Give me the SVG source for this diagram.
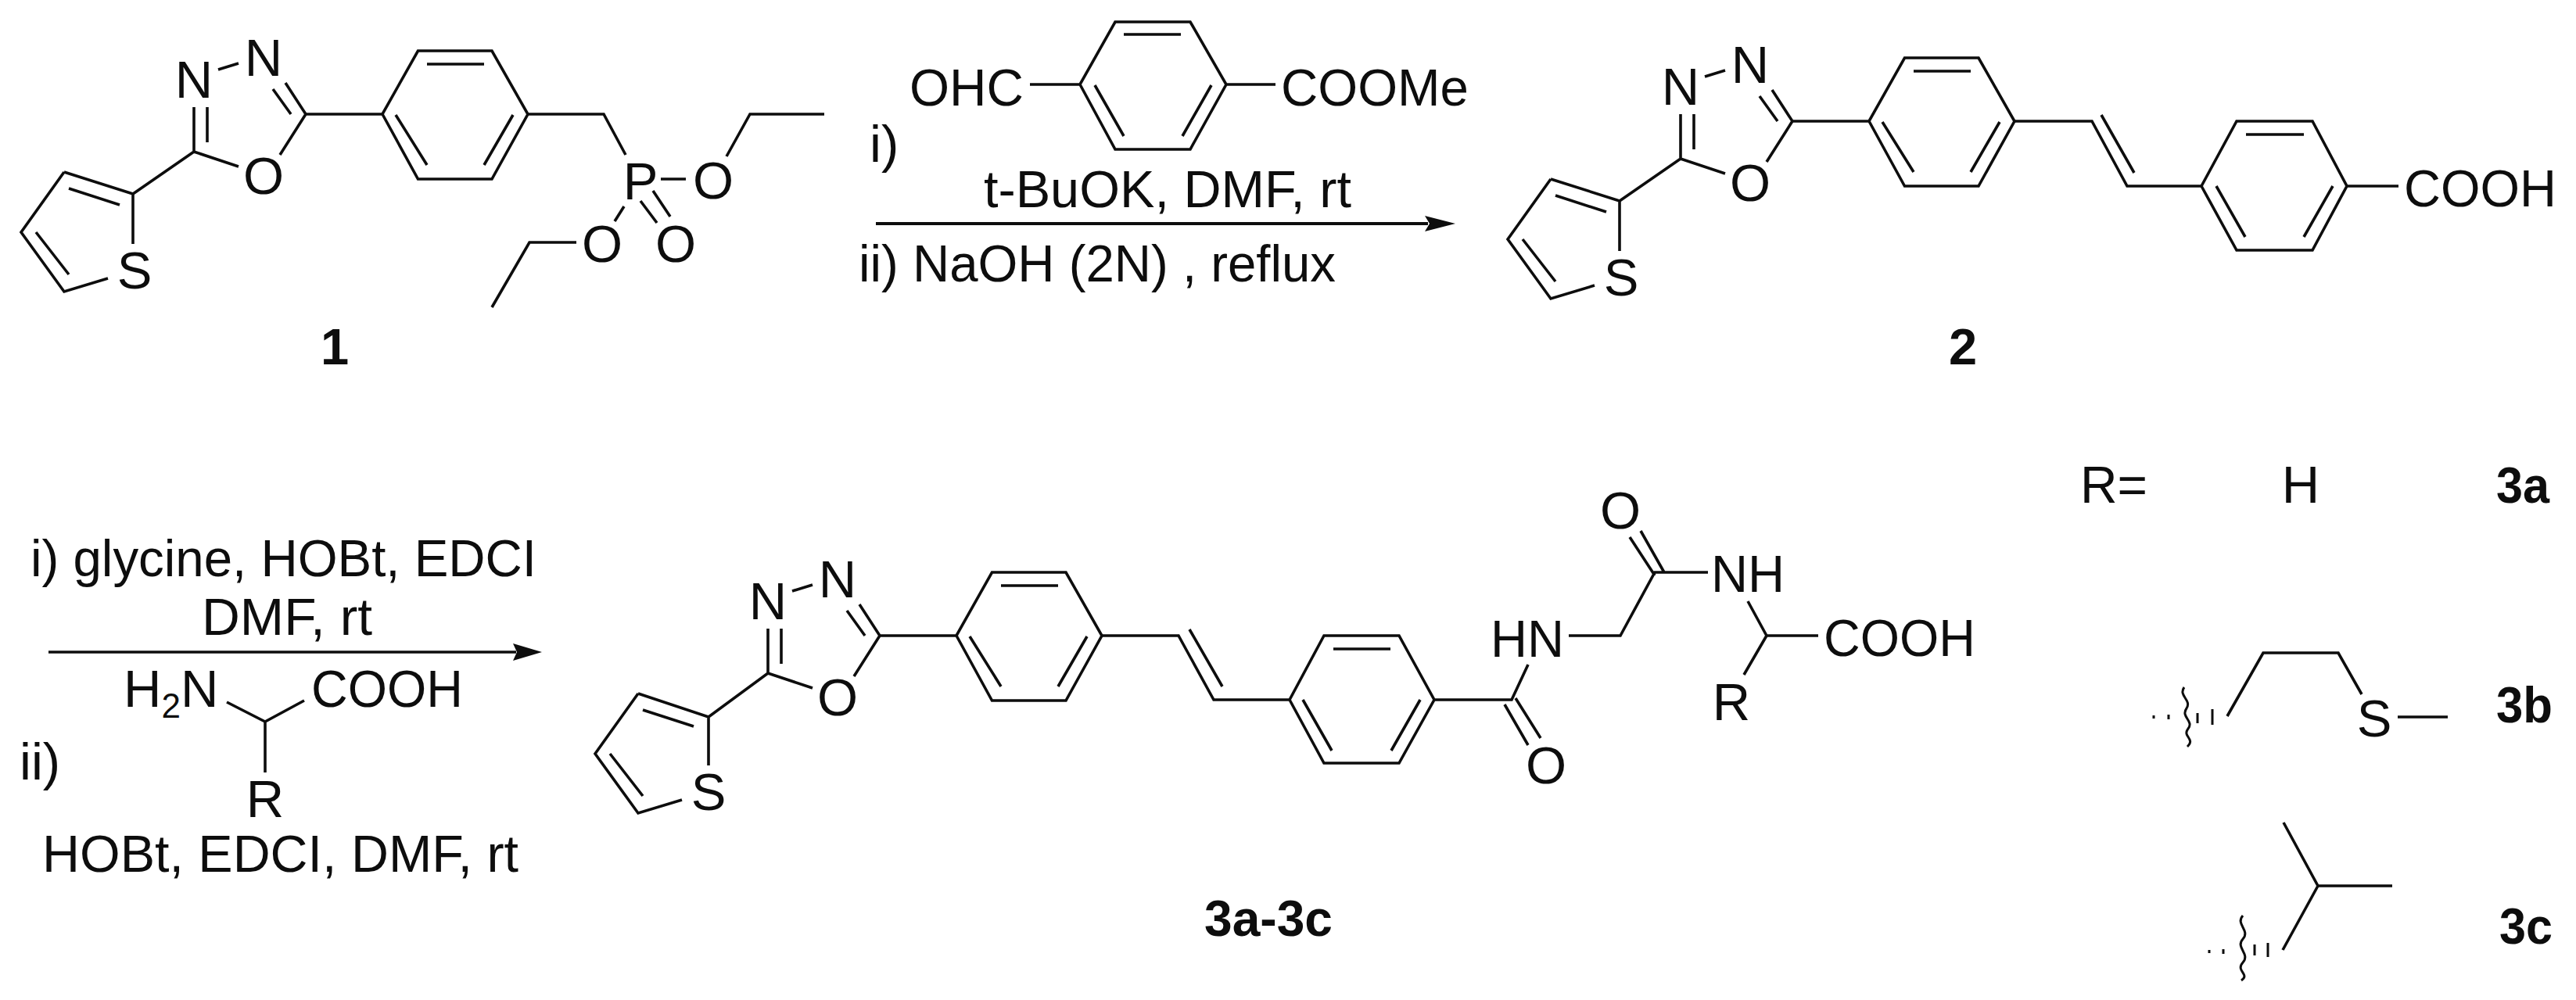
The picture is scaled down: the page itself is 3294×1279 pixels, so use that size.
<svg xmlns="http://www.w3.org/2000/svg" width="3294" height="1279" viewBox="0 0 3294 1279">
<style>
.b{fill:none;stroke:#0d0d0d;stroke-width:3.6;stroke-linejoin:miter}
.w{fill:none;stroke:#0d0d0d;stroke-width:3}
.a{fill:none;stroke:#0d0d0d;stroke-width:4}
text{font-family:"Liberation Sans",Arial,sans-serif;font-size:67px;fill:#0d0d0d}
.m{text-anchor:middle}
.l{font-weight:bold;font-size:65px;text-anchor:middle}
.s{font-size:44px}
.h{fill:#0d0d0d}
</style>
<rect width="3294" height="1279" fill="#fff"/>
<g id="compound-1">
<path class="b" d="M82 220L170 248L248 194L305 213M170 248V312M82 220L27 297L82 373L138 356M88 241L153 262M46 297L88 351M248 194V137M265 182V137M279 89L305 81M365 106L391 146L358 198M349 114L372 146M391 146H489L534.500 65H629L675 146L629 229H534.500L489 146M546 82H619M506 147L546 211M656 147L619 211"/>
<text class="m" x="248" y="125">N</text><text class="m" x="337" y="97">N</text><text class="m" x="337" y="248">O</text><text class="m" x="172" y="369">S</text>
<path class="b" d="M675 146H772L800 198M845 229H877M929 200L959 146H1054M835 244L857 277M819 257L840 285M798 264L786 283M737 310H677L629 393"/>
<text class="m" x="819" y="255">P</text><text class="m" x="912" y="254">O</text><text class="m" x="770" y="335">O</text><text class="m" x="864" y="335">O</text>
<text class="l" x="428" y="466">1</text>
</g>
<g id="reagent-aldehyde">
<path class="b" d="M1317 108H1381L1426 28H1522L1568 108L1522 191H1426L1381 108M1437 44H1510M1400 109L1437 174M1549 109L1512 174M1568 108H1631"/>
<text x="1163" y="135" textLength="146" lengthAdjust="spacingAndGlyphs">OHC</text><text x="1638" y="135" textLength="240" lengthAdjust="spacingAndGlyphs">COOMe</text>
</g>
<g id="conditions-1">
<text x="1112" y="207">i)</text>
<text class="m" x="1493" y="265" textLength="470" lengthAdjust="spacingAndGlyphs">t-BuOK, DMF, rt</text>
<text x="1098" y="360" textLength="610" lengthAdjust="spacingAndGlyphs">ii) NaOH (2N) , reflux</text>
</g>
<g id="compound-2">
<g transform="translate(1901 9)">
<path class="b" d="M82 220L170 248L248 194L305 213M170 248V312M82 220L27 297L82 373L138 356M88 241L153 262M46 297L88 351M248 194V137M265 182V137M279 89L305 81M365 106L391 146L358 198M349 114L372 146M391 146H489L534.500 65H629L675 146L629 229H534.500L489 146M546 82H619M506 147L546 211M656 147L619 211"/>
<text class="m" x="248" y="125">N</text><text class="m" x="337" y="97">N</text><text class="m" x="337" y="248">O</text><text class="m" x="172" y="369">S</text>
</g>
<path class="b" d="M2576 155H2675L2720 238H2815L2860 155H2957L3001 238L2957 320H2860L2815 238M2687 147L2729 221M2872 172H2946M2834 238L2871 303M2983 238L2946 303M3001 238H3067"/>
<text x="3074" y="264" textLength="195" lengthAdjust="spacingAndGlyphs">COOH</text>
<text class="l" x="2510" y="466">2</text>
</g>
<g id="conditions-2">
<text x="39" y="737" textLength="647" lengthAdjust="spacingAndGlyphs">i) glycine, HOBt, EDCI</text>
<text class="m" x="367" y="812" textLength="218" lengthAdjust="spacingAndGlyphs">DMF, rt</text>
<text x="158" y="904">H<tspan class="s" dy="14">2</tspan><tspan dy="-14">N</tspan></text>
<text x="398" y="904" textLength="194" lengthAdjust="spacingAndGlyphs">COOH</text>
<path class="b" d="M290 898L339 923L389 896M339 923V988"/>
<text class="m" x="339" y="1045">R</text>
<text x="25" y="997">ii)</text>
<text x="54" y="1115" textLength="609" lengthAdjust="spacingAndGlyphs">HOBt, EDCI, DMF, rt</text>
</g>
<g id="compound-3">
<g transform="translate(734 667)">
<path class="b" d="M82 220L172 250L248 194L305 213M172 250V312M82 220L27 297L82 373L138 356M88 241L153 262M46 297L88 351M248 194V137M265 182V137M279 89L305 81M365 106L391 146L358 198M349 114L372 146M391 146H489L534.500 65H629L675 146L629 229H534.500L489 146M546 82H619M506 147L546 211M656 147L619 211"/>
<text class="m" x="248" y="125">N</text><text class="m" x="337" y="97">N</text><text class="m" x="337" y="248">O</text><text class="m" x="172" y="369">S</text>
</g>
<path class="b" d="M1409 813H1507L1552 895H1649L1693 813H1789L1834 895L1789 976H1693L1649 895M1521 805L1563 878M1705 830H1778M1666 895L1703 960M1816 895L1779 960M1834 895H1933L1954 850M1938 893L1970 944M1924 901L1954 953M2006 813H2072L2116 732H2184M2128 732L2098 679M2116 736L2084 687M2235 769L2259 813H2325M2259 813L2230 863"/>
<text x="1906" y="840" textLength="94" lengthAdjust="spacingAndGlyphs">HN</text>
<text class="m" x="1977" y="1002">O</text>
<text class="m" x="2072" y="676">O</text>
<text x="2188" y="757" textLength="94" lengthAdjust="spacingAndGlyphs">NH</text>
<text x="2332" y="839" textLength="194" lengthAdjust="spacingAndGlyphs">COOH</text>
<text class="m" x="2214" y="921">R</text>
<text class="l" x="1622" y="1197" textLength="164" lengthAdjust="spacingAndGlyphs">3a-3c</text>
</g>
<g id="r-3a">
<text x="2660" y="643" textLength="86" lengthAdjust="spacingAndGlyphs">R=</text>
<text class="m" x="2942" y="643">H</text>
<text class="l" x="3226" y="643" textLength="68" lengthAdjust="spacingAndGlyphs">3a</text>
</g>
<g id="r-3b">
<path class="b" d="M2848 916L2894 835H2990L3020 888M3066 917H3130"/>
<text class="m" x="3036" y="942">S</text>
<path class="w" d="M2829 907V927M2810 912V925M2773 914V920M2754 915V919"/>
<path class="w" d="M2793 879C2785 890 2803 895 2796 906C2788 917 2806 922 2798 932C2790 942 2808 945 2797 955"/>
<text class="l" x="3228" y="924" textLength="72" lengthAdjust="spacingAndGlyphs">3b</text>
</g>
<g id="r-3c">
<path class="b" d="M2920 1052L2964 1133H3059M2964 1133L2919 1215"/>
<path class="w" d="M2900 1206V1224M2883 1208V1222M2843 1214V1220M2825 1215V1219"/>
<path class="w" d="M2868 1171C2858 1182 2878 1190 2868 1201C2858 1212 2878 1220 2868 1231C2858 1242 2878 1246 2866 1254"/>
<text class="l" x="3230" y="1207" textLength="68" lengthAdjust="spacingAndGlyphs">3c</text>
</g>
<g id="connectors">
<path class="a" d="M1120 286H1826"/>
<path class="h" d="M1861 286L1822 276L1828 286L1822 296Z"/>
<path class="b" d="M62 834H660"/>
<path class="h" d="M693 834L656 823L661 834L656 845Z"/>
</g>
</svg>
